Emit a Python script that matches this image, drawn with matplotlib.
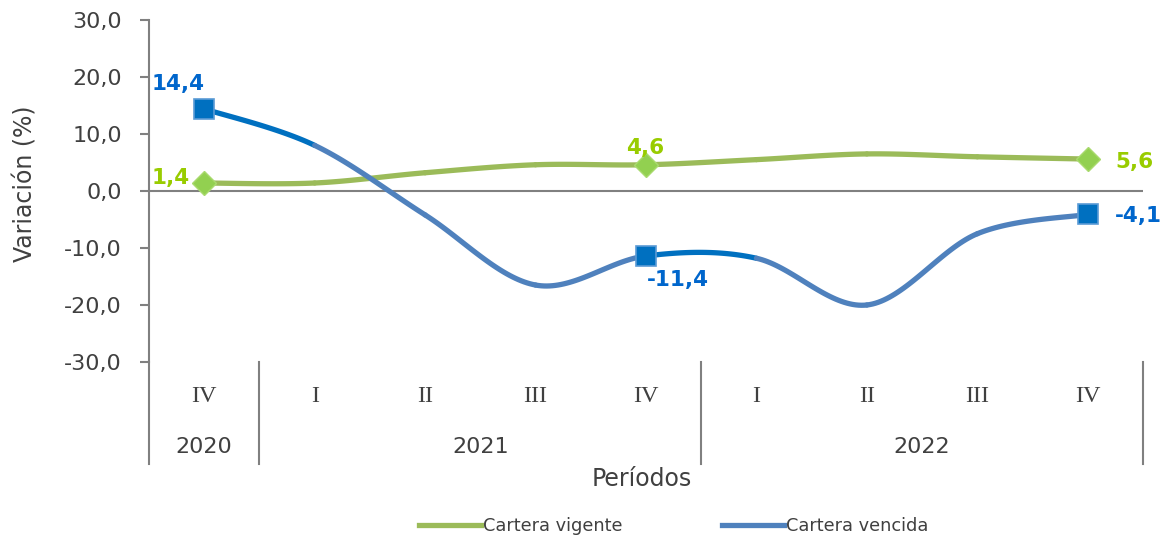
import numpy as np
import matplotlib
matplotlib.use("Agg")
import matplotlib.pyplot as plt
from matplotlib.lines import Line2D

quarters = ["IV", "I", "II", "III", "IV", "I", "II", "III", "IV"]
years = ["2020", "2021", "2022"]
year_spans = [(0, 0), (1, 4), (5, 8)]
vigente = [1.4, 1.4, 3.2, 4.6, 4.6, 5.5, 6.5, 6.0, 5.6]
vencida = [14.4, 8.0, -4.2, -16.5, -11.4, -11.8, -20.0, -7.5, -4.1]
labeled = [0, 4, 8]

GREEN_LINE = "#9BBB59"
GREEN_MARK = "#92D050"
GREEN_TXT = "#99CC00"
BLUE_LINE = "#4F81BD"
BLUE_DARK = "#0070C0"
BLUE_TXT = "#0066CC"
GRAY = "#808080"
TXT = "#404040"


def smooth_segment(x, y, i, n=40):
    # catmull-rom piece between point i and i+1 (like excel's smoothed line)
    p0 = (x[max(i - 1, 0)], y[max(i - 1, 0)])
    p1 = (x[i], y[i])
    p2 = (x[i + 1], y[i + 1])
    p3 = (x[min(i + 2, len(x) - 1)], y[min(i + 2, len(y) - 1)])
    c1 = (p1[0] + (p2[0] - p0[0]) / 6, p1[1] + (p2[1] - p0[1]) / 6)
    c2 = (p2[0] - (p3[0] - p1[0]) / 6, p2[1] - (p3[1] - p1[1]) / 6)
    t = np.linspace(0, 1, n)
    bx = (1 - t) ** 3 * p1[0] + 3 * (1 - t) ** 2 * t * c1[0] + 3 * (1 - t) * t ** 2 * c2[0] + t ** 3 * p2[0]
    by = (1 - t) ** 3 * p1[1] + 3 * (1 - t) ** 2 * t * c1[1] + 3 * (1 - t) * t ** 2 * c2[1] + t ** 3 * p2[1]
    return bx, by


fig = plt.figure(figsize=(11.67, 5.37), dpi=100)
ax = fig.add_axes([0.1277, 0.3259, 0.8517, 0.6369])

x = np.arange(len(quarters))

for i in range(len(x) - 1):
    bx, by = smooth_segment(x, vigente, i)
    ax.plot(bx, by, color=GREEN_LINE, lw=3.8, solid_capstyle="round", zorder=3)
for i in range(len(x) - 1):
    bx, by = smooth_segment(x, vencida, i)
    col = BLUE_DARK if i in (0, 4) else BLUE_LINE
    ax.plot(bx, by, color=col, lw=3.8, solid_capstyle="round", zorder=3)

ax.plot(x[labeled], np.array(vigente)[labeled], linestyle="none", marker="D",
        ms=12, mfc=GREEN_MARK, mec="#A9DA6E", mew=1, zorder=5)
ax.plot(x[labeled], np.array(vencida)[labeled], linestyle="none", marker="s",
        ms=14.5, mfc=BLUE_DARK, mec="#5B9BD5", mew=1.2, zorder=5)

lab_kw = dict(fontsize=15.5, fontweight="bold", zorder=6)
ax.text(-0.24, 18.8, "14,4", color=BLUE_TXT, ha="center", va="center", **lab_kw)
ax.text(-0.30, 2.3, "1,4", color=GREEN_TXT, ha="center", va="center", **lab_kw)
ax.text(3.99, 7.5, "4,6", color=GREEN_TXT, ha="center", va="center", **lab_kw)
ax.text(4.29, -15.6, "-11,4", color=BLUE_TXT, ha="center", va="center", **lab_kw)
ax.text(8.25, 5.1, "5,6", color=GREEN_TXT, ha="left", va="center", **lab_kw)
ax.text(8.25, -4.4, "-4,1", color=BLUE_TXT, ha="left", va="center", **lab_kw)

ax.set_xlim(-0.5, 8.5)
ax.set_ylim(-30, 30)
ax.set_yticks(np.arange(-30, 31, 10))
ax.set_yticklabels([f"{v:.1f}".replace(".", ",") for v in np.arange(-30, 31, 10)])
ax.tick_params(axis="y", labelsize=16, labelcolor=TXT, color=GRAY, length=6.5,
               width=1.5, pad=13)
ax.set_xticks([])
for s in ["top", "right", "bottom"]:
    ax.spines[s].set_visible(False)
ax.spines["left"].set_color(GRAY)
ax.spines["left"].set_linewidth(1.5)
ax.axhline(0, color=GRAY, lw=1.5, zorder=2)
ax.set_ylabel("Variación (%)", fontsize=17, color=TXT)
ax.yaxis.set_label_coords(-0.112, 0.52)

# category axis below the plot
ybot = -47.9
for xs in [-0.5, 0.5, 4.5, 8.5]:
    ax.plot([xs, xs], [-30, ybot], color=GRAY, lw=1.5, clip_on=False)
for xi, q in zip(x, quarters):
    ax.text(xi, -36.1, q, fontsize=17.5, family="Liberation Serif", color=TXT,
            ha="center", va="center", clip_on=False)
for yr, (a, b) in zip(years, year_spans):
    ax.text((a + b) / 2, -44.9, yr, fontsize=16, color=TXT,
            ha="center", va="center", clip_on=False)
ax.text(3.96, -50.5, "Períodos", fontsize=17, color=TXT, ha="center", va="center", clip_on=False)

handles = [Line2D([], [], color=GREEN_LINE, lw=3.8),
           Line2D([], [], color=BLUE_LINE, lw=3.8)]
fig.legend(handles, ["Cartera vigente", "Cartera vencida"], loc="center",
           bbox_to_anchor=(0.577, 0.02), ncol=2, frameon=False, fontsize=12.8,
           handlelength=3.5, handletextpad=0.1, columnspacing=5.6, labelcolor=TXT)

fig.savefig("out.png", dpi=100)
